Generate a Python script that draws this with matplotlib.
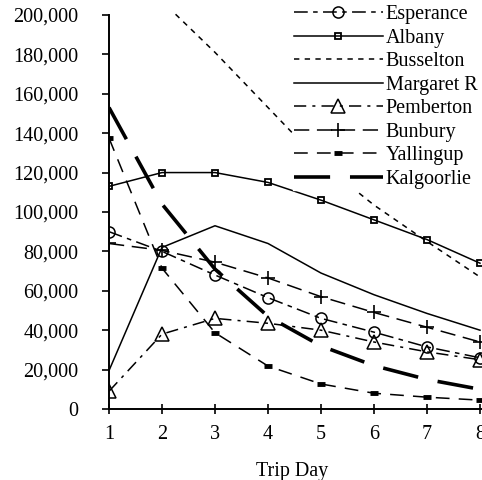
import matplotlib
matplotlib.use("Agg")
import matplotlib.pyplot as plt
from matplotlib.ticker import StrMethodFormatter

plt.rcParams['font.family'] = ['Liberation Serif', 'DejaVu Serif']

days = [1, 2, 3, 4, 5, 6, 7, 8]

esperance = [90000, 80000, 68000, 56500, 46000, 39000, 31500, 26000]
albany = [113000, 120000, 120000, 115000, 106000, 96000, 86000, 74000]
busselton = [250000, 207000, 181000, 153000, 125000, 103500, 85000, 67000]
margaret_r = [19500, 82000, 93000, 84000, 69000, 58000, 48500, 40000]
pemberton = [9000, 38000, 46000, 43500, 40000, 34000, 29000, 25000]
bunbury = [84000, 80500, 74500, 66500, 57000, 49000, 41500, 34000]
yallingup = [137500, 71500, 38700, 21800, 12700, 8000, 6000, 4500]
kalgoorlie = [153000, 104000, 71000, 47000, 32000, 22000, 15000, 10000]

fig = plt.figure(figsize=(4.82, 4.8), dpi=100)
ax = fig.add_axes([109/482, 71/480, 397.5/482, 398/480])

lw = 1.1
ax.plot(days, esperance, color='k', lw=lw, linestyle=(0, (9, 3.5, 3, 3.5)),
        marker='o', ms=8, mfc='none', mew=1.1, label='Esperance')
ax.plot(days, albany, color='k', lw=lw, linestyle='-',
        marker='s', ms=5, mfc='none', mew=1.3, label='Albany')
ax.plot(days, busselton, color='k', lw=lw, linestyle=(0, (3.5, 3.5)),
        label='Busselton')
ax.plot(days, margaret_r, color='k', lw=lw, linestyle='-', label='Margaret R')
ax.plot(days, pemberton, color='k', lw=lw, linestyle=(0, (8, 4, 2, 4)),
        marker='^', ms=10, mfc='none', mew=1.1, label='Pemberton')
ax.plot(days, bunbury, color='k', lw=lw, linestyle=(0, (10, 5)),
        marker='+', ms=10, mew=1.2, label='Bunbury')
ax.plot(days, yallingup, color='k', lw=lw, linestyle=(0, (9, 6)),
        marker='_', ms=6, mew=3.5, label='Yallingup')
ax.plot(days, kalgoorlie, color='k', lw=2.6, linestyle=(0, (10, 5.5)),
        label='Kalgoorlie')

ax.set_xlim(1, 8.5)
ax.set_ylim(0, 202000)
ax.set_xticks(days)
ax.set_yticks(range(0, 200001, 20000))
ax.yaxis.set_major_formatter(StrMethodFormatter('{x:,.0f}'))

for s in ['top', 'right']:
    ax.spines[s].set_visible(False)
ax.spines['left'].set_bounds(0, 200000)
ax.spines['left'].set_linewidth(1.4)
ax.spines['bottom'].set_linewidth(1.4)
ax.tick_params(axis='y', direction='out', length=5, width=1.2, pad=17, labelsize=14.5)
ax.tick_params(axis='x', direction='inout', length=7, width=1.2, pad=8, labelsize=14.5)

ax.set_xlabel('Trip Day', fontsize=14.5, labelpad=13)
ax.xaxis.label.set_x(3.45 / 7.5)

leg = ax.legend(loc='upper left', bbox_to_anchor=(293/482, 476/480), bbox_transform=fig.transFigure,
                fontsize=14.5, frameon=True, fancybox=False, framealpha=1,
                facecolor='white', edgecolor='white', numpoints=1,
                handlelength=4.4, handletextpad=0.15, labelspacing=0.22,
                borderpad=0.05, borderaxespad=0)

fig.savefig('out.png', dpi=100)
